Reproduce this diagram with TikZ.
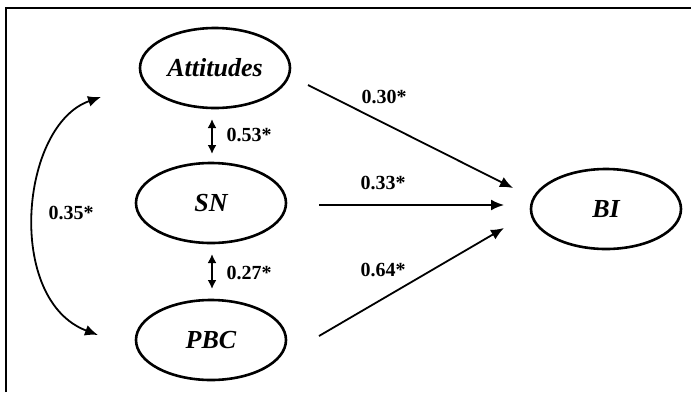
\documentclass[tikz,border=0pt]{standalone}
\usepackage{fontspec}
\setmainfont{Liberation Serif}
\usetikzlibrary{shapes.geometric,arrows.meta}
\begin{document}
\begin{tikzpicture}[x=1pt,y=-1pt,
  latent/.style={ellipse,draw,line width=2.6pt,minimum width=150pt,minimum height=80pt,inner sep=0pt,
    font=\fontsize{26}{30}\selectfont\bfseries\itshape},
  coef/.style={font=\fontsize{20}{23}\selectfont\bfseries,inner sep=0pt},
  path/.style={line width=1.8pt,-{Latex[length=13pt,width=11pt]}},
  corr/.style={line width=2.2pt,{Latex[length=9pt,width=9pt]}-{Latex[length=9pt,width=9pt]}}]
\useasboundingbox (0,0) rectangle (691,392);
\draw[line width=2pt] (6,392) -- (6,8) -- (691,8);
\node[latent] (att) at (215,68) {Attitudes};
\node[latent] (sn) at (211,203) {SN};
\node[latent] (pbc) at (211,340) {PBC};
\node[latent] (bi) at (606,209) {BI};
% path arrows
\coordinate (a1) at (308,85);
\coordinate (a2) at (513,188);
\coordinate (s1) at (319,205);
\coordinate (s2) at (504,205);
\coordinate (p1) at (319,336);
\coordinate (p2) at (504,228);
\draw[path] (a1) -- (a2);
\draw[path] (s1) -- (s2);
\draw[path] (p1) -- (p2);
\node[coef] (l30) at (384,97) {0.30*};
\node[coef] (l33) at (383,183) {0.33*};
\node[coef] (l64) at (383,270) {0.64*};
% correlations
\coordinate (c1t) at (212,119);
\coordinate (c1b) at (212,154);
\coordinate (c2t) at (212,254);
\coordinate (c2b) at (212,289);
\draw[corr] (c1t) -- (c1b);
\draw[corr] (c2t) -- (c2b);
\node[coef] (l53) at (249,135) {0.53*};
\node[coef] (l27) at (249,273) {0.27*};
\coordinate (ct) at (101,97);
\coordinate (cb) at (98,335);
\draw[line width=1.8pt,{Latex[length=13pt,width=11pt]}-{Latex[length=13pt,width=11pt]}] (ct) .. controls (20,125) and (5,300) .. (cb);
\node[coef] (l35) at (71,213) {0.35*};
\end{tikzpicture}
\end{document}
